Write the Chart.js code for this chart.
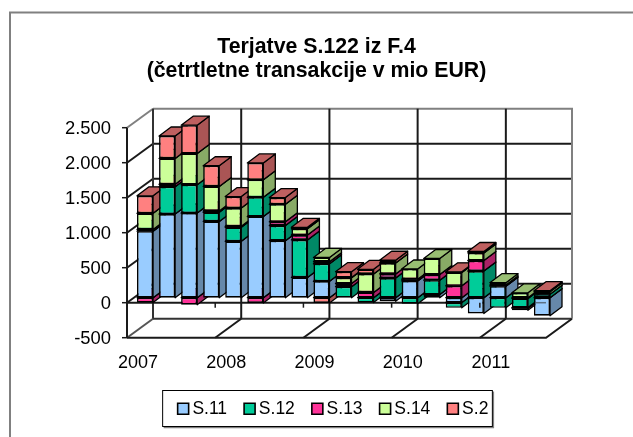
<!DOCTYPE html>
<html><head><meta charset="utf-8">
<style>html,body{margin:0;padding:0;background:#fff;overflow:hidden}#w{width:633px;height:437px}</style>
<script src="https://cdn.jsdelivr.net/npm/chart.js@4"></script>
</head><body><div id="w"><canvas id="c" width="633" height="437"></canvas></div>
<script>
const categories=['2007','','','','2008','','','','2009','','','','2010','','','','2011','',''];
const S11=[950,1195,1210,1090,805,1160,815,290,235,0,0,-50,240,45,-70,-225,165,-10,-257];
const S12=[25,390,405,130,200,275,215,535,250,157,-70,280,-85,205,-75,380,-145,-130,50];
const S13=[-70,35,-100,20,15,-75,55,70,30,45,75,60,25,80,170,150,15,-10,0];
const S14=[230,370,445,350,260,250,250,90,60,85,265,155,145,230,190,110,35,70,35];
const S2=[250,320,405,295,165,240,95,20,-75,85,65,40,0,0,10,20,0,-30,15];
const seriesNames=['S.11','S.12','S.13','S.14','S.2'];
const seriesValues=[S11,S12,S13,S14,S2];
const fronts=['#99CCFF','#00CC99','#FF3399','#CCFF99','#FF8080'];
const tops=['#7399BF','#009973','#BF2673','#99BF73','#BF6060'];
const sides=['#6688AA','#008866','#AA2266','#88AA66','#AA5555'];
const yTicks=[-500,0,500,1000,1500,2000,2500];
const front={dx:-7,dy:5}, back={dx:19,dy:-14}, depth={dx:12,dy:-9};
const FONT='"Liberation Sans", Arial, sans-serif';

function line(ctx,pts,color,w){ctx.beginPath();ctx.moveTo(pts[0][0],pts[0][1]);
  for(let i=1;i<pts.length;i++)ctx.lineTo(pts[i][0],pts[i][1]);
  ctx.strokeStyle=color;ctx.lineWidth=w;ctx.stroke();}
function poly(ctx,pts,fill){ctx.beginPath();ctx.moveTo(pts[0][0],pts[0][1]);
  for(let i=1;i<pts.length;i++)ctx.lineTo(pts[i][0],pts[i][1]);ctx.closePath();
  ctx.fillStyle=fill;ctx.fill();ctx.strokeStyle='#000';ctx.lineWidth=1.3;ctx.lineJoin='round';ctx.stroke();}

const scene={
  id:'scene',
  afterLayout(chart){
    const l=chart.legend;l.left+=59;l.right+=59;l.adjustHitBoxes();
    const t=chart.titleBlock;t.left+=40;t.right+=40;
  },
  beforeDraw(chart){
    const ctx=chart.ctx,G='#808080';
    line(ctx,[[10,437],[10,12.5],[633,12.5]],G,2);
    const h=chart.legend.legendHitBoxes,a=h[0],b=h[h.length-1];
    const L=a.left-20,R=b.left+b.width+4,T=390.5,B=426.5;
    line(ctx,[[L+1,B+1],[R+1,B+1],[R+1,T+1]],G,1.5);
    ctx.strokeStyle='#000';ctx.lineWidth=1;ctx.strokeRect(L,T,R-L,B-T);
  },
  beforeDatasetsDraw(chart){
    const ctx=chart.ctx,x=chart.scales.x,y=chart.scales.y,K='#1a1a1a',G='#808080';
    const xl=x.left,xr=x.right,yv=v=>y.getPixelForValue(v);
    ctx.save();ctx.lineCap='butt';
    yTicks.forEach(v=>{
      const p=yv(v);
      const col=v===2500?G:(v===-500?'#555':K);
      line(ctx,[[xl+front.dx,p+front.dy],[xl+back.dx,p+back.dy]],col,2);
      if(v!==-500&&v!==2500)line(ctx,[[xl+back.dx,p+back.dy],[xr+back.dx,p+back.dy]],K,2);
      line(ctx,[[xl+front.dx-5,p+front.dy],[xl+front.dx,p+front.dy]],K,1.5);
    });
    const top=yv(2500),bot=yv(-500),zero=yv(0);
    line(ctx,[[xl+back.dx,bot+back.dy],[xr+back.dx,bot+back.dy]],'#333',2);
    line(ctx,[[xl+back.dx,top+back.dy],[xr+back.dx,top+back.dy],[xr+back.dx,bot+back.dy]],G,2);
    line(ctx,[[xl+back.dx,top+back.dy],[xl+back.dx,bot+back.dy]],'#333',2);
    line(ctx,[[xl+front.dx,top+front.dy],[xl+front.dx,bot+front.dy]],K,2);
    line(ctx,[[xl+front.dx,bot+front.dy],[xr+front.dx,bot+front.dy],[xr+back.dx,bot+back.dy]],K,2);
    line(ctx,[[xl+front.dx,zero+front.dy],[xr+front.dx,zero+front.dy]],K,2);
    categories.forEach((c,i)=>{
      if(!c||i===0)return;
      const px=x.getPixelForValue(i-0.5);
      line(ctx,[[px+back.dx,top+back.dy],[px+back.dx,bot+back.dy]],K,2);
      line(ctx,[[px+back.dx,bot+back.dy],[px+front.dx,bot+front.dy]],K,2);
    });
    ctx.restore();
    // painter's order: left to right, each column bottom to top
    categories.forEach((c,i)=>{
      const segs=seriesValues.map((s,d)=>({d,el:chart.getDatasetMeta(d).data[i],v:s[i]})).filter(s=>s.v!==0);
      segs.forEach(s=>{s.t=Math.min(s.el.y,s.el.base);s.b=Math.max(s.el.y,s.el.base);});
      segs.sort((p,q)=>q.b-p.b);
      segs.forEach(s=>{
        const l=s.el.x-s.el.width/2,r=s.el.x+s.el.width/2,{dx,dy}=depth;
        poly(ctx,[[r,s.t],[r+dx,s.t+dy],[r+dx,s.b+dy],[r,s.b]],sides[s.d]);
        poly(ctx,[[l,s.t],[r,s.t],[r+dx,s.t+dy],[l+dx,s.t+dy]],tops[s.d]);
        s.el.draw(ctx);
      });
    });
    ctx.save();
    categories.forEach((c,i)=>{
      if(!c||i===0)return;
      const px=x.getPixelForValue(i-0.5)+front.dx;
      line(ctx,[[px,zero+front.dy],[px,zero+front.dy+5]],K,1.5);
    });
    ctx.globalAlpha=.6;
    const last=chart.getDatasetMeta(0).data[categories.length-1];
    line(ctx,[[last.x-last.width/2+2,zero+front.dy],[xr+front.dx,zero+front.dy]],'#333',1.5);
    ctx.restore();
    return false;
  }
};

new Chart(document.getElementById('c'),{
  type:'bar',
  data:{labels:categories,datasets:seriesNames.map((n,i)=>({
    label:n,data:seriesValues[i],backgroundColor:fronts[i],borderColor:'#000',borderWidth:1.6,borderSkipped:false,
    barPercentage:16/22,categoryPercentage:1,pointStyle:'rect'}))},
  plugins:[scene],
  options:{
    responsive:false,animation:false,
    layout:{autoPadding:false,padding:{left:0,right:80,top:0,bottom:9.5}},
    plugins:{
      title:{display:true,text:['Terjatve S.122 iz F.4','(četrtletne transakcije v mio EUR)'],
        color:'#000',font:{family:FONT,size:21.3,weight:'bold',lineHeight:24/21.3},padding:{top:35,bottom:39.7}},
      legend:{position:'bottom',labels:{color:'#000',font:{family:FONT,size:17.5},usePointStyle:true,boxWidth:1,boxHeight:11,padding:22}},
      tooltip:{enabled:false}
    },
    scales:{
      x:{stacked:true,grid:{display:false,drawTicks:false},border:{display:false},
        afterFit(s){s.height=45.3;},
        ticks:{autoSkip:false,maxRotation:0,minRotation:0,color:'#000',font:{family:FONT,size:18},padding:19.3,labelOffset:-7}},
      y:{stacked:true,min:-500,max:2500,grid:{display:false,drawTicks:false},border:{display:false},
        afterFit(s){s.width=134;},
        ticks:{stepSize:500,color:'#000',font:{family:FONT,size:18.4},padding:23,labelOffset:6.3,
          callback:v=>String(v).replace(/(\d)(\d{3})$/,'$1.$2')}}
    }
  }
});
</script></body></html>
